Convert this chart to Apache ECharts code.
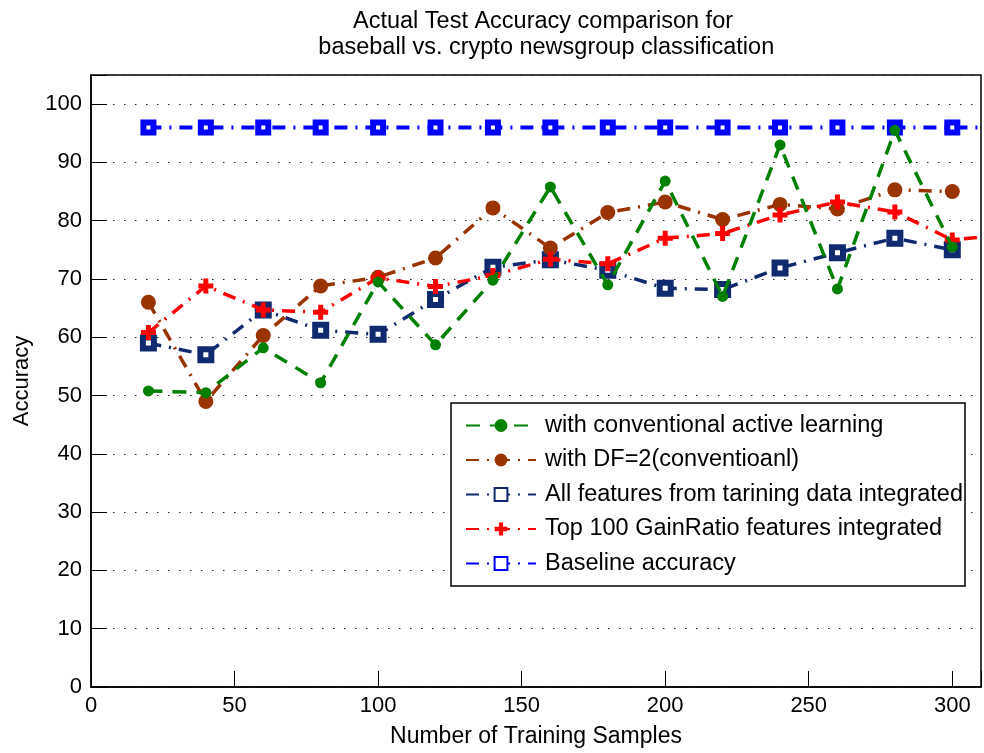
<!DOCTYPE html>
<html>
<head>
<meta charset="utf-8">
<script src="https://cdn.jsdelivr.net/npm/echarts@6/dist/echarts.min.js"></script>
<style>
  html, body { margin: 0; padding: 0; background: #fff; }
  #chart { width: 984px; height: 753px; }
</style>
</head>
<body>
<div id="chart"></div>
<script>
// training sample counts (last point for two lines lies beyond the axis and is clipped)
const samples = [20, 40, 60, 80, 100, 120, 140, 160, 180, 200, 220, 240, 260, 280, 300]
const samplesExt = [20, 40, 60, 80, 100, 120, 140, 160, 180, 200, 220, 240, 260, 280, 300, 320]

const conventional = [50.8, 50.5, 58.2, 52.2, 69.5, 58.7, 69.8, 85.8, 69, 86.8, 67, 93, 68.3, 95.5, 75.5]
const df2 = [66, 49, 60.3, 68.8, 70.3, 73.6, 82.2, 75.3, 81.4, 83.2, 80.2, 82.8, 82, 85.3, 85]
const allFeatures = [59, 57, 64.7, 61.2, 60.5, 66.5, 72, 73.3, 71.5, 68.4, 68.2, 71.9, 74.5, 77, 75]
const top100 = [60.8, 68.8, 64.7, 64.3, 70.2, 68.7, 70.6, 73.4, 72.6, 77, 77.8, 81, 83.2, 81.5, 76.7, 77.7]
const baseline = [96, 96, 96, 96, 96, 96, 96, 96, 96, 96, 96, 96, 96, 96, 96, 96]

const names = [
  'with conventional active learning',
  'with DF=2(conventioanl)',
  'All features from tarining data integrated',
  'Top 100 GainRatio features integrated',
  'Baseline accuracy'
]

function pairs(xs, ys) {
  return ys.map((y, i) => [xs[i], y])
}

const plusPath = 'path://M4,0h4v4h4v4h-4v4h-4v-4h-4v-4h4z'
const dashDot = [13, 8, 2, 8]

// extra axes only used to draw matlab style inward ticks
function tickAxis(pos, min, max, interval) {
  return {
    type: 'value',
    position: pos,
    offset: -8,
    min: min,
    max: max,
    interval: interval,
    axisLine: { show: false },
    axisTick: { show: true, length: 8, lineStyle: { color: '#000', width: 1 } },
    axisLabel: { show: false },
    splitLine: { show: false }
  }
}

let myChart = echarts.init(document.getElementById('chart'))
let option = {
  animation: false,
  textStyle: { fontFamily: 'Liberation Sans, Arial, sans-serif' },
  title: {
    text: 'Actual Test Accuracy comparison for\n baseball vs. crypto newsgroup classification',
    left: 538,
    top: 4,
    textAlign: 'center',
    textStyle: {
      fontSize: 23.5,
      fontWeight: 'normal',
      color: '#000',
      lineHeight: 26
    }
  },
  grid: {
    left: 91,
    right: 3,
    top: 75,
    bottom: 66,
    show: true,
    borderColor: '#000',
    borderWidth: 1.5
  },
  legend: {
    orient: 'vertical',
    left: 451,
    top: 403,
    padding: [10, 2, 10, 14],
    itemWidth: 70,
    itemHeight: 16,
    itemGap: 9.5,
    backgroundColor: '#fff',
    borderColor: '#000',
    borderWidth: 1.5,
    borderRadius: 0,
    textStyle: { fontSize: 23.5, color: '#000', lineHeight: 25, padding: [0, 0, 0, 4] },
    data: names
  },
  xAxis: [
    {
      type: 'value',
      min: 0,
      max: 310,
      interval: 50,
      name: 'Number of Training Samples',
      nameLocation: 'middle',
      nameGap: 38,
      nameTextStyle: { fontSize: 23, color: '#000' },
      axisLine: { lineStyle: { color: '#000', width: 1.5 } },
      axisTick: { show: false },
      axisLabel: {
        fontSize: 22,
        color: '#000',
        margin: 8,
        formatter: v => (v % 50 === 0 ? String(v) : '')
      },
      splitLine: { show: false }
    },
    tickAxis('bottom', 0, 310, 50),
    tickAxis('top', 0, 310, 50)
  ],
  yAxis: [
    {
      type: 'value',
      min: 0,
      max: 105,
      interval: 10,
      name: 'Accuracy',
      nameLocation: 'middle',
      nameGap: 58,
      nameTextStyle: { fontSize: 22, color: '#000' },
      axisLine: { lineStyle: { color: '#000', width: 1.5 } },
      axisTick: { show: false },
      axisLabel: {
        fontSize: 22,
        color: '#000',
        margin: 9,
        formatter: v => (v % 10 === 0 ? String(v) : '')
      },
      splitLine: { show: true, lineStyle: { type: [1.5, 9.5], color: '#222', width: 1 } }
    },
    tickAxis('left', 0, 105, 10),
    tickAxis('right', 0, 105, 10)
  ],
  series: [
    {
      name: names[4],
      type: 'line',
      data: pairs(samplesExt, baseline),
      symbol: 'rect',
      symbolSize: 10,
      lineStyle: { color: '#0000ff', width: 4, type: dashDot },
      itemStyle: { color: '#fff', borderColor: '#0000ff', borderWidth: 6 },
      z: 2
    },
    {
      name: names[2],
      type: 'line',
      data: pairs(samples, allFeatures),
      symbol: 'rect',
      symbolSize: 11,
      lineStyle: { color: '#0f2a6e', width: 3.5, type: dashDot },
      itemStyle: { color: '#fff', borderColor: '#0f2a6e', borderWidth: 6 },
      z: 3
    },
    {
      name: names[1],
      type: 'line',
      data: pairs(samples, df2),
      symbol: 'circle',
      symbolSize: 15,
      lineStyle: { color: '#993300', width: 3.5, type: dashDot },
      itemStyle: { color: '#993300' },
      z: 4
    },
    {
      name: names[3],
      type: 'line',
      data: pairs(samplesExt, top100),
      symbol: plusPath,
      symbolSize: 15,
      lineStyle: { color: '#ff0000', width: 3.5, type: dashDot },
      itemStyle: { color: '#ff0000' },
      z: 5
    },
    {
      name: names[0],
      type: 'line',
      data: pairs(samples, conventional),
      symbol: 'circle',
      symbolSize: 11,
      lineStyle: { color: '#008000', width: 3.5, type: [14, 10] },
      itemStyle: { color: '#008000' },
      z: 6
    }
  ]
}
myChart.setOption(option)
</script>
</body>
</html>
